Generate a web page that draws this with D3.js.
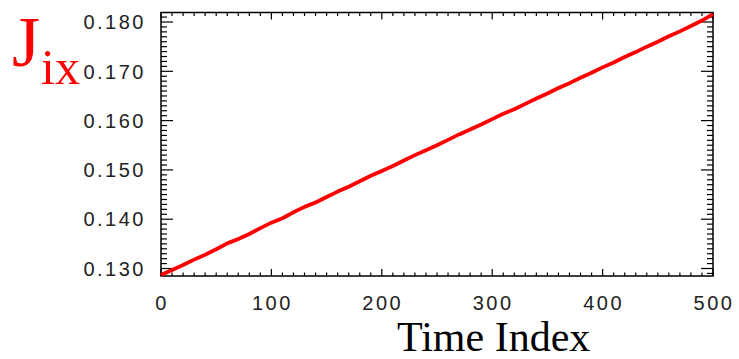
<!DOCTYPE html>
<html><head><meta charset="utf-8">
<script src="https://cdn.jsdelivr.net/npm/d3@7"></script>
<style>html,body{margin:0;padding:0;background:#fff;}svg{display:block;}</style>
</head><body>
<svg id="c" width="739" height="359"></svg>
<script>
const timeIndex = [0,10,20,30,40,50,60,70,80,90,100,110,120,130,140,150,160,170,180,190,200,210,220,230,240,250,260,270,280,290,300,310,320,330,340,350,360,370,380,390,400,410,420,430,440,450,460,470,480,490,500];
const jix = [0.1287,0.1297,0.1307,0.1318,0.1328,0.1339,0.1351,0.1360,0.1370,0.1382,0.1393,0.1402,0.1414,0.1425,0.1434,0.1445,0.1456,0.1466,0.1477,0.1488,0.1498,0.1508,0.1519,0.1530,0.1540,0.1550,0.1561,0.1572,0.1582,0.1592,0.1603,0.1614,0.1623,0.1634,0.1645,0.1655,0.1666,0.1676,0.1687,0.1697,0.1708,0.1718,0.1729,0.1739,0.1750,0.1760,0.1771,0.1781,0.1792,0.1803,0.1816];
const xTicks = [0,100,200,300,400,500];
const yTicks = [0.130,0.140,0.150,0.160,0.170,0.180];

const svg = d3.select("#c");
const L=161, R=713, T=12.5, B=276;
const x = d3.scaleLinear().domain([0,500]).range([L,R]);
const y = d3.scaleLinear().domain([0.12848,0.18193]).range([B,T]);

const g = svg.append("g");
g.append("rect").attr("x",L).attr("y",T).attr("width",R-L).attr("height",B-T)
 .attr("fill","none").attr("stroke","#000").attr("stroke-width",1.5);

const xMinor = d3.range(0,501,10);
const yMinor = d3.range(0,54).map(i=>+(0.129+i*0.001).toFixed(3)).filter(v=>v<=0.1815);
const isMajorX = v => v%100===0;
const isMajorY = v => Math.abs(v*100-Math.round(v*100))<1e-6;
xMinor.forEach(v=>{
  const len = isMajorX(v)?7:3.5;
  g.append("line").attr("x1",x(v)).attr("x2",x(v)).attr("y1",B).attr("y2",B-len).attr("stroke","#000").attr("stroke-width",1.2);
  g.append("line").attr("x1",x(v)).attr("x2",x(v)).attr("y1",T).attr("y2",T+len).attr("stroke","#000").attr("stroke-width",1.2);
});
yMinor.forEach(v=>{
  const len = isMajorY(v)?12:6;
  g.append("line").attr("x1",L).attr("x2",L+len).attr("y1",y(v)).attr("y2",y(v)).attr("stroke","#000").attr("stroke-width",1.2);
  g.append("line").attr("x1",R).attr("x2",R-len).attr("y1",y(v)).attr("y2",y(v)).attr("stroke","#000").attr("stroke-width",1.2);
});
const lf = "'Liberation Sans', Arial, sans-serif";
g.selectAll(".yl").data(yTicks).enter().append("text")
 .attr("x",146).attr("y",d=>y(d)).attr("dy","0.36em").attr("text-anchor","end")
 .attr("font-family",lf).attr("font-size",20).attr("letter-spacing","2.5px").attr("fill","#222")
 .text(d=>d3.format(".3f")(d));
g.selectAll(".xl").data(xTicks).enter().append("text")
 .attr("x",d=>x(d)+1).attr("y",303).attr("dy","0.36em").attr("text-anchor","middle")
 .attr("font-family",lf).attr("font-size",20).attr("letter-spacing","2.5px").attr("fill","#222")
 .text(d=>String(d));

const line = d3.line().x((d,i)=>x(timeIndex[i])).y(d=>y(d));
g.append("path").datum(jix).attr("d",line).attr("fill","none")
 .attr("stroke","#ff0000").attr("stroke-width",3.8).attr("stroke-linejoin","round");

const sf = "'Liberation Serif','Times New Roman',serif";
svg.append("text").attr("x",397).attr("y",351).attr("font-family",sf).attr("font-size",42).attr("fill","#000").text("Time Index");
const jt = svg.append("text").attr("x",12).attr("y",66).attr("font-family",sf).attr("fill","#ff0000");
jt.append("tspan").attr("font-size",72).text("J");
jt.append("tspan").attr("font-size",50).attr("x",41).attr("y",84).text("ix");
</script>
</body></html>
